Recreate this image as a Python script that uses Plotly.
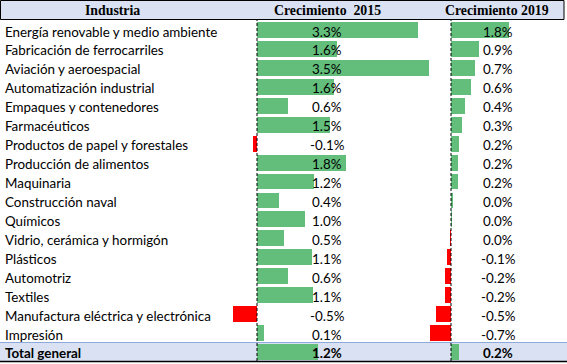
import plotly.graph_objects as go

# ---- data ----
industries = ["Energía renovable y medio ambiente", "Fabricación de ferrocarriles",
              "Aviación y aeroespacial", "Automatización industrial",
              "Empaques y contenedores", "Farmacéuticos",
              "Productos de papel y forestales", "Producción de alimentos",
              "Maquinaria", "Construcción naval", "Químicos",
              "Vidrio, cerámica y hormigón", "Plásticos", "Automotriz", "Textiles",
              "Manufactura eléctrica y electrónica", "Impresión"]
growth_2015 = [3.28, 1.63, 3.51, 1.57, 0.63, 1.49, -0.09, 1.82, 1.16, 0.44, 0.98,
               0.54, 1.12, 0.63, 1.14, -0.49, 0.14]
growth_2019 = [1.80, 0.87, 0.74, 0.62, 0.43, 0.34, 0.24, 0.23, 0.21, 0.04, 0.01,
               -0.03, -0.12, -0.19, -0.20, -0.46, -0.66]
total_label = "Total general"
total_2015 = 1.24
total_2019 = 0.24
headers = ["Industria", "Crecimiento\u00a0\u00a02015", "Crecimiento 2019"]

# ---- styling ----
W, H = 567, 364
GREEN, RED = "#63BE7B", "#FF0000"
HEAD_BG = "#D9E1F2"
BODY_FONT = "Lato"
HEAD_FONT = "Liberation Serif"

rows = industries + [total_label]
v15 = growth_2015 + [total_2015]
v19 = growth_2019 + [total_2019]


def fmt(v):
    s = f"{v:.1f}"
    if float(s) == 0:
        s = "0.0"
    return s + "%"


def px(x):
    return x / W


def py(y):
    return 1 - y / H


fig = go.Figure()
fig.add_trace(go.Bar(y=rows, x=v15, orientation="h", xaxis="x", yaxis="y",
                     marker=dict(color=[GREEN if v >= 0 else RED for v in v15], line=dict(width=0)),
                     width=0.84, hoverinfo="skip", showlegend=False))
fig.add_trace(go.Bar(y=rows, x=v19, orientation="h", xaxis="x2", yaxis="y",
                     marker=dict(color=[GREEN if v >= 0 else RED for v in v19], line=dict(width=0)),
                     width=0.84, hoverinfo="skip", showlegend=False))

shapes = []
# header background & borders
shapes.append(dict(type="rect", xref="paper", yref="paper", x0=px(0.5), x1=px(564), y0=py(19.5), y1=py(0.5),
                   fillcolor=HEAD_BG, line=dict(color="black", width=1), layer="below"))
# total row background
shapes.append(dict(type="rect", xref="paper", yref="paper", x0=0, x1=1, y0=py(361), y1=py(342.5),
                   fillcolor=HEAD_BG, line=dict(width=0), layer="below"))
shapes.append(dict(type="line", xref="paper", yref="paper", x0=0, x1=1, y0=py(342.5), y1=py(342.5),
                   line=dict(color="#8EA9DB", width=1), layer="below"))
shapes.append(dict(type="line", xref="paper", yref="paper", x0=0, x1=1, y0=py(361.5), y1=py(361.5),
                   line=dict(color="black", width=1.5), layer="above"))
# data-bar axes (dashed zero lines)
for xr in ["x", "x2"]:
    shapes.append(dict(type="line", xref=xr, yref="paper", x0=0, x1=0, y0=py(361), y1=py(20),
                       line=dict(color="black", width=1, dash="3px,2px"), layer="above"))

annotations = []
head_x = [112, 327, 497]
for t, x in zip(headers, head_x):
    annotations.append(dict(text=f"<b>{t}</b>", xref="paper", yref="paper", x=px(x), y=py(10.5),
                            xanchor="center", yanchor="middle", showarrow=False,
                            font=dict(family=HEAD_FONT, size=13.8, color="black")))
for r, a, b in zip(rows, v15, v19):
    bold = r == total_label
    wrap = (lambda s: f"<b>{s}</b>") if bold else (lambda s: s)
    common = dict(xref="paper", yref="y", y=r, yanchor="middle", showarrow=False, yshift=-1.5,
                  font=dict(family=BODY_FONT, size=13.4, color="black"))
    annotations.append(dict(text=wrap(r), x=px(3), xanchor="left", **common))
    annotations.append(dict(text=wrap(fmt(a)), x=px(327), xanchor="center", **common))
    annotations.append(dict(text=wrap(fmt(b)), x=px(498), xanchor="center", **common))

# axis scales: 2015 zero at 257px, 49.1 px per %; 2019 zero at 451px, 32.2 px per %
z15, s15 = 257, 49.1
z19, s19 = 451, 32.2
pitch, first = 18.94, 30.0

fig.update_layout(
    width=W, height=H, margin=dict(l=0, r=0, t=0, b=0),
    paper_bgcolor="white", plot_bgcolor="white",
    barmode="overlay", bargap=0,
    xaxis=dict(domain=[0, 1], range=[-z15 / s15, (W - z15) / s15], visible=False, fixedrange=True),
    xaxis2=dict(domain=[0, 1], range=[-z19 / s19, (W - z19) / s19], visible=False,
                overlaying="x", fixedrange=True),
    yaxis=dict(type="category", categoryarray=rows, domain=[0, 1],
               range=[(H - first) / pitch, -first / pitch], visible=False, fixedrange=True),
    shapes=shapes, annotations=annotations,
)

fig.write_html("out.html", config=dict(displayModeBar=False),
               post_script="document.body.style.margin='0';document.body.style.overflow='hidden';")
